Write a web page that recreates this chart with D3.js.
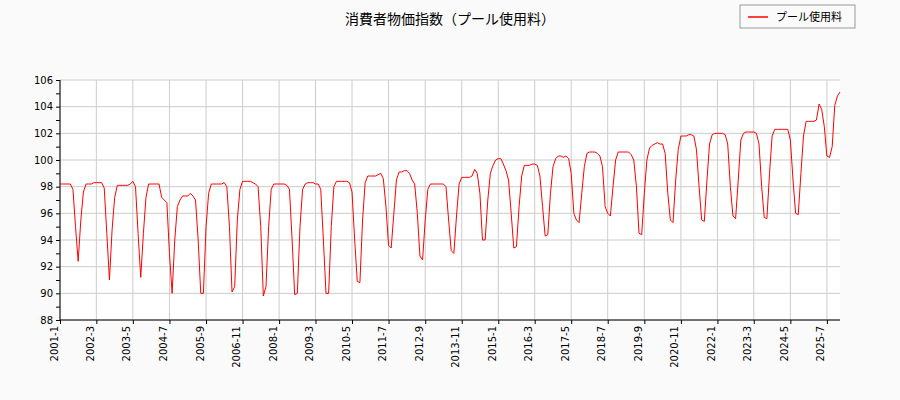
<!DOCTYPE html>
<html lang="ja">
<head>
<meta charset="UTF-8" />
<title>消費者物価指数（プール使用料）</title>
<script src="https://d3js.org/d3.v7.min.js"></script>
<style>
  body { margin: 0; background: #fafafa; }
  text { font-family: "DejaVu Sans", "Noto Sans CJK JP", sans-serif; }
  .grid line { stroke: #cccccc; }
</style>
</head>
<body>
<svg width="900" height="400"></svg>
<script>
// monthly values 2001-01 .. 2025-12, one row per year
const y2001 = [98.2,98.2,98.2,98.2,98.2,97.8,95.0,92.4,95.5,97.6,98.2,98.2];
const y2002 = [98.2,98.3,98.3,98.3,98.3,97.9,94.5,91.0,94.8,97.2,98.1,98.1];
const y2003 = [98.1,98.1,98.1,98.2,98.4,98.0,94.5,91.2,94.5,97.2,98.2,98.2];
const y2004 = [98.2,98.2,98.2,97.2,97.0,96.8,93.0,90.0,94.0,96.5,97.0,97.3];
const y2005 = [97.3,97.3,97.5,97.3,97.0,94.0,90.0,90.0,95.0,97.5,98.2,98.2];
const y2006 = [98.2,98.2,98.2,98.3,98.0,95.0,90.1,90.5,95.5,97.8,98.4,98.4];
const y2007 = [98.4,98.4,98.3,98.2,98.0,95.0,89.8,90.5,95.0,97.8,98.2,98.2];
const y2008 = [98.2,98.2,98.2,98.1,97.8,94.0,89.9,90.0,95.0,97.8,98.2,98.3];
const y2009 = [98.3,98.3,98.2,98.2,97.8,94.0,90.0,90.0,95.0,98.0,98.4,98.4];
const y2010 = [98.4,98.4,98.4,98.3,97.6,94.0,90.9,90.8,95.5,98.3,98.8,98.8];
const y2011 = [98.8,98.8,98.9,99.0,98.6,96.5,93.6,93.4,96.0,98.5,99.1,99.1];
const y2012 = [99.2,99.2,99.0,98.5,98.2,96.0,92.8,92.5,95.5,97.8,98.2,98.2];
const y2013 = [98.2,98.2,98.2,98.2,98.0,95.5,93.2,93.0,95.8,98.2,98.7,98.7];
const y2014 = [98.7,98.7,98.8,99.3,99.0,97.5,94.0,94.0,97.0,99.0,99.6,100.0];
const y2015 = [100.1,100.1,99.7,99.2,98.5,96.0,93.4,93.5,96.5,98.8,99.6,99.6];
const y2016 = [99.6,99.7,99.7,99.6,98.8,96.5,94.3,94.4,97.5,99.5,100.1,100.3];
const y2017 = [100.3,100.2,100.3,100.1,99.0,96.0,95.5,95.3,97.5,99.5,100.5,100.6];
const y2018 = [100.6,100.6,100.5,100.3,99.5,96.5,96.0,95.8,98.0,100.0,100.6,100.6];
const y2019 = [100.6,100.6,100.6,100.4,100.0,98.0,94.5,94.4,97.5,100.0,100.9,101.1];
const y2020 = [101.2,101.3,101.2,101.2,100.5,97.5,95.5,95.3,98.5,100.8,101.8,101.8];
const y2021 = [101.8,101.9,101.9,101.8,100.8,98.0,95.5,95.4,98.5,101.2,101.9,102.0];
const y2022 = [102.0,102.0,102.0,101.9,101.2,98.0,95.8,95.6,98.5,101.5,102.0,102.1];
const y2023 = [102.1,102.1,102.1,102.0,101.2,98.0,95.7,95.6,99.0,101.8,102.3,102.3];
const y2024 = [102.3,102.3,102.3,102.3,101.5,98.5,96.0,95.9,99.0,101.8,102.9,102.9];
const y2025 = [102.9,102.9,103.0,104.2,103.8,102.5,100.3,100.2,101.0,104.1,104.8,105.1];
const years = [y2001,y2002,y2003,y2004,y2005,y2006,y2007,y2008,y2009,y2010,y2011,y2012,y2013,
  y2014,y2015,y2016,y2017,y2018,y2019,y2020,y2021,y2022,y2023,y2024,y2025];
const yTicks = [88,90,92,94,96,98,100,102,104,106];
const seriesName = "プール使用料";
const title = "消費者物価指数（プール使用料）";

const data = [];
years.forEach((row, yi) => row.forEach((v, m) => data.push({date: new Date(2001 + yi, m, 1), v: v})));

const svg = d3.select("svg");
const m = {l: 60, r: 60, t: 80, b: 80};
const W = 900, H = 400;

const x = d3.scaleTime()
  .domain([new Date(2001, 0, 1), new Date(2025, 11, 1)])
  .range([m.l, W - m.r]);
const y = d3.scaleLinear().domain([88, 106]).range([H - m.b, m.t]);

svg.append("rect").attr("x", m.l).attr("y", m.t)
  .attr("width", W - m.l - m.r).attr("height", H - m.t - m.b).attr("fill", "#fff");

const xTickDates = [];
for (let i = 0; i <= 294; i += 14) xTickDates.push(new Date(2001, i, 1));

const g = svg.append("g").attr("class", "grid");
g.selectAll(".gx").data(xTickDates).enter().append("line")
  .attr("x1", d => x(d)).attr("x2", d => x(d)).attr("y1", m.t).attr("y2", H - m.b);
g.selectAll(".gy").data(yTicks).enter().append("line")
  .attr("x1", m.l).attr("x2", W - m.r).attr("y1", d => y(d)).attr("y2", d => y(d));

svg.append("line").attr("x1", m.l).attr("x2", m.l).attr("y1", m.t).attr("y2", H - m.b).attr("stroke", "#000");
svg.append("line").attr("x1", m.l).attr("x2", W - m.r).attr("y1", H - m.b).attr("y2", H - m.b).attr("stroke", "#000");

const yAxis = svg.append("g").attr("transform", `translate(${m.l},0)`)
  .call(d3.axisLeft(y).ticks(18).tickSize(4).tickFormat(d => d % 2 === 0 ? d : ""));
yAxis.select(".domain").remove();
yAxis.selectAll("text").attr("font-size", 10).attr("fill", "#000");

const xAxis = svg.append("g").attr("transform", `translate(0,${H - m.b})`)
  .call(d3.axisBottom(x).tickValues(xTickDates).tickSize(4)
    .tickFormat(d => d.getFullYear() + "-" + (d.getMonth() + 1)));
xAxis.select(".domain").remove();
xAxis.selectAll("text").attr("font-size", 10).attr("fill", "#000")
  .attr("transform", "rotate(-90)").attr("text-anchor", "end")
  .attr("x", -6).attr("y", -3).attr("dy", "0");

svg.append("path").datum(data)
  .attr("fill", "none").attr("stroke", "#ff0000").attr("stroke-width", 1)
  .attr("d", d3.line().x(d => x(d.date)).y(d => y(d.v)));

svg.append("text").attr("x", W / 2).attr("y", 24).attr("text-anchor", "middle")
  .attr("font-size", 14).text(title);

const lg = svg.append("g").attr("transform", "translate(740,5)");
lg.append("rect").attr("width", 115).attr("height", 23).attr("fill", "#fafafa").attr("stroke", "#999");
lg.append("line").attr("x1", 8).attr("x2", 28).attr("y1", 12).attr("y2", 12)
  .attr("stroke", "#ff0000").attr("stroke-width", 1.5);
lg.append("text").attr("x", 36).attr("y", 16).attr("font-size", 11).text(seriesName);
</script>
</body>
</html>
